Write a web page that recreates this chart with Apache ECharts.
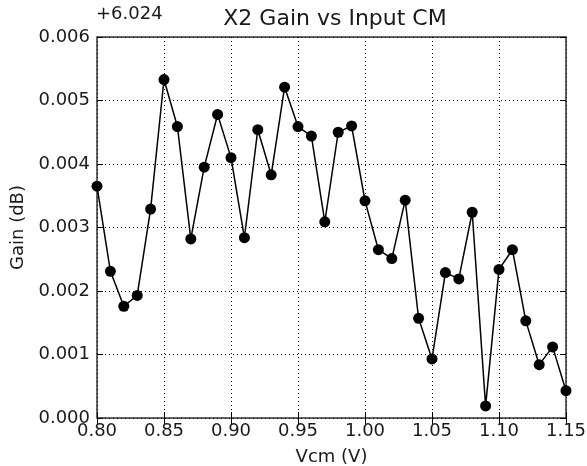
<!DOCTYPE html>
<html>
<head>
<meta charset="utf-8">
<script src="https://cdn.jsdelivr.net/npm/echarts@6/dist/echarts.min.js"></script>
<style>
  html, body { margin: 0; padding: 0; background: #fff; }
  #chart { width: 587px; height: 466px; }
</style>
</head>
<body>
<div id="chart"></div>
<script>
// gain offsets above 6.024 dB, one per Vcm step
const vcm = [0.80, 0.81, 0.82, 0.83, 0.84, 0.85, 0.86, 0.87, 0.88, 0.89,
             0.90, 0.91, 0.92, 0.93, 0.94, 0.95, 0.96, 0.97, 0.98, 0.99,
             1.00, 1.01, 1.02, 1.03, 1.04, 1.05, 1.06, 1.07, 1.08, 1.09,
             1.10, 1.11, 1.12, 1.13, 1.14, 1.15];
const gainOffset = [0.00365, 0.00231, 0.00176, 0.00193, 0.00329, 0.00533, 0.00459, 0.00282, 0.00395, 0.00478,
                    0.00410, 0.00284, 0.00454, 0.00383, 0.00521, 0.00459, 0.00444, 0.00309, 0.00450, 0.00460,
                    0.00342, 0.00265, 0.00251, 0.00343, 0.00157, 0.00093, 0.00229, 0.00219, 0.00324, 0.00019,
                    0.00234, 0.00265, 0.00153, 0.00084, 0.00112, 0.00043];
const offsetLabel = '+6.024';

const chart = echarts.init(document.getElementById('chart'));
const font = 'DejaVu Sans';
const ink = '#1a1a1a';
const gridLine = { show: true, lineStyle: { color: '#000', type: [1, 3], width: 1 } };
const tick = { inside: true, length: 6, lineStyle: { color: '#000' } };

chart.setOption({
  animation: false,
  backgroundColor: '#fff',
  title: {
    text: 'X2 Gain vs Input CM',
    left: 330, top: 3, textAlign: 'center',
    textStyle: { fontFamily: font, fontSize: 22, fontWeight: 'normal', color: ink }
  },
  graphic: [{
    type: 'text', left: 96, top: 5,
    style: { text: offsetLabel, fontFamily: font, fontSize: 18, fill: ink }
  }],
  grid: {
    left: 97, right: 21, top: 37, bottom: 48,
    containLabel: false, outerBoundsMode: 'none',
    show: true, borderColor: '#333', borderWidth: 1.5
  },
  xAxis: [{
    type: 'value', min: 0.8, max: 1.15, interval: 0.05,
    name: 'Vcm (V)', nameLocation: 'middle', nameGap: 30,
    nameTextStyle: { fontFamily: font, fontSize: 18, color: ink },
    axisLine: { show: false },
    axisTick: tick,
    axisLabel: { fontFamily: font, fontSize: 18, color: ink, margin: 4,
      formatter: v => v.toFixed(2) },
    splitLine: gridLine
  }, {
    type: 'value', position: 'top', min: 0.8, max: 1.15, interval: 0.05,
    axisLine: { show: false }, axisLabel: { show: false }, splitLine: { show: false },
    axisTick: tick
  }],
  yAxis: [{
    type: 'value', min: 0, max: 0.006, interval: 0.001,
    name: 'Gain (dB)', nameLocation: 'middle', nameGap: 67, nameRotate: 90,
    nameTextStyle: { fontFamily: font, fontSize: 18, color: ink },
    axisLine: { show: false },
    axisTick: tick,
    axisLabel: { fontFamily: font, fontSize: 18, color: ink, margin: 7,
      formatter: v => v.toFixed(3) },
    splitLine: gridLine
  }, {
    type: 'value', position: 'right', min: 0, max: 0.006, interval: 0.001,
    axisLine: { show: false }, axisLabel: { show: false }, splitLine: { show: false },
    axisTick: tick
  }],
  series: [{
    type: 'line',
    data: vcm.map((x, i) => [x, gainOffset[i]]),
    symbol: 'circle', symbolSize: 11,
    itemStyle: { color: '#000' },
    lineStyle: { color: '#000', width: 1.5 },
    clip: false
  }]
});
</script>
</body>
</html>
